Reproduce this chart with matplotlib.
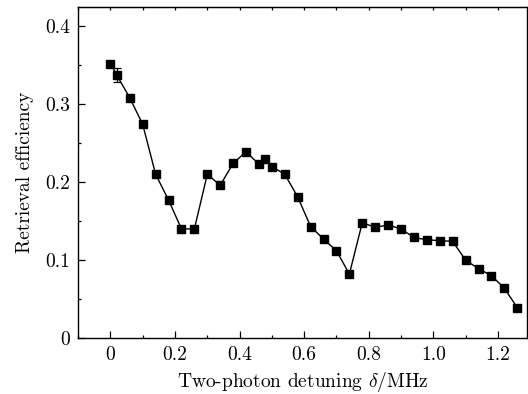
import matplotlib
matplotlib.use('Agg')
import matplotlib.pyplot as plt
from matplotlib.ticker import MultipleLocator, NullFormatter

plt.rcParams['font.family'] = 'serif'
plt.rcParams['font.serif'] = ['cmr10']
plt.rcParams['mathtext.fontset'] = 'cm'
plt.rcParams['axes.formatter.use_mathtext'] = True

# detuning (MHz) and retrieval efficiency
detuning = [0, 0.02, 0.06, 0.10, 0.14, 0.18, 0.22, 0.26, 0.30, 0.34, 0.38, 0.42,
            0.46, 0.48, 0.50, 0.54, 0.58, 0.62, 0.66, 0.70, 0.74, 0.78, 0.82,
            0.86, 0.90, 0.94, 0.98, 1.02, 1.06, 1.10, 1.14, 1.18, 1.22, 1.26]
efficiency = [0.352, 0.337, 0.308, 0.274, 0.210, 0.177, 0.140, 0.140, 0.210,
              0.196, 0.224, 0.239, 0.223, 0.230, 0.220, 0.210, 0.181, 0.143,
              0.127, 0.112, 0.082, 0.148, 0.142, 0.145, 0.140, 0.129, 0.126,
              0.125, 0.124, 0.100, 0.089, 0.080, 0.064, 0.039]
errors = [0.0, 0.009] + [0.0] * 32

xticks = [0, 0.2, 0.4, 0.6, 0.8, 1.0, 1.2]
xlabels = ['0', '0.2', '0.4', '0.6', '0.8', '1.0', '1.2']
yticks = [0, 0.1, 0.2, 0.3, 0.4]
ylabels = ['0', '0.1', '0.2', '0.3', '0.4']

fig = plt.figure(figsize=(5.28, 3.94), dpi=100)
ax = fig.add_axes([0.148, 0.142, 0.85, 0.841])

ax.errorbar(detuning, efficiency, yerr=errors, color='black', linewidth=1.0,
            marker='s', markersize=6.2, capsize=3, elinewidth=0.9, capthick=0.9)

ax.set_xlim(-0.1, 1.29)
ax.set_ylim(0, 0.425)
ax.set_xticks(xticks)
ax.set_xticklabels(xlabels)
ax.set_yticks(yticks)
ax.set_yticklabels(ylabels)
ax.xaxis.set_minor_locator(MultipleLocator(0.1))
ax.yaxis.set_minor_locator(MultipleLocator(0.05))
ax.tick_params(which='major', direction='in', length=5, width=0.9, labelsize=14, pad=6)
ax.tick_params(which='minor', direction='in', length=2, width=0.9)

# short ticks along the top edge
top = ax.secondary_xaxis('top')
top.xaxis.set_major_locator(MultipleLocator(0.1))
top.xaxis.set_major_formatter(NullFormatter())
top.tick_params(direction='in', length=2, width=0.9)

for s in ax.spines.values():
    s.set_linewidth(1.0)

ax.set_xlabel(r'Two-photon detuning $\delta$/MHz', fontsize=14)
ax.set_ylabel('Retrieval efficiency', fontsize=14, labelpad=8)

plt.savefig('out.png', dpi=100)
